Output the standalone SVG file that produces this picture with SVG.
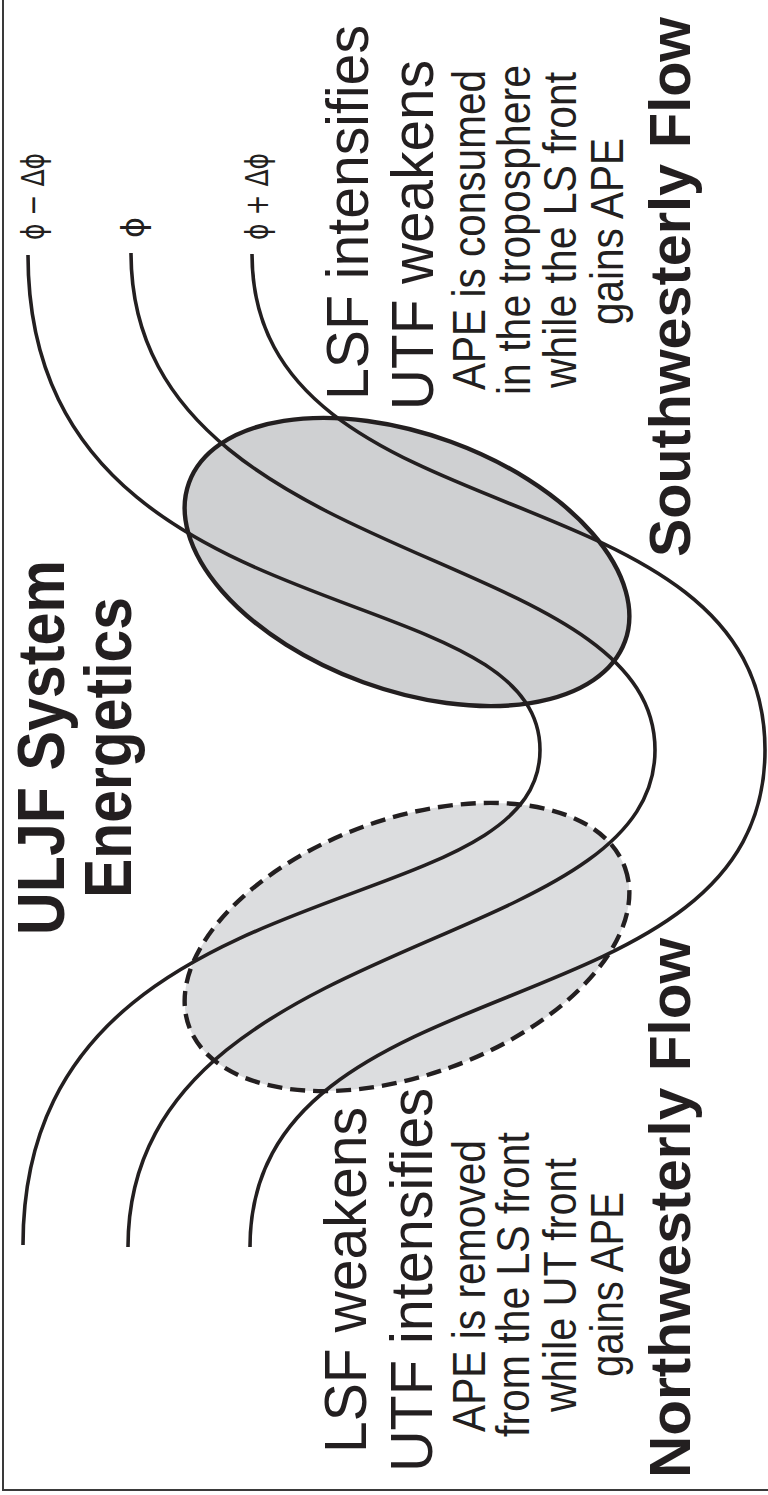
<svg xmlns="http://www.w3.org/2000/svg" width="768" height="1495" viewBox="0 0 768 1495">
  <style>
    .ink { fill: #231f20; }
    .big { font-family: "Liberation Sans", Arial, sans-serif; font-size: 60px; }
    .mid { font-family: "Liberation Sans", Arial, sans-serif; font-size: 46px; }
    .bold { font-family: "Liberation Sans", Arial, sans-serif; font-weight: bold; }
    .flow { font-size: 57px; }
    .lab { font-family: "DejaVu Sans", sans-serif; font-size: 32px; }
    .contour { fill: none; stroke: #231f20; stroke-width: 3.6; }
    .zone { stroke: #231f20; stroke-width: 4.4; }
  </style>

  <rect width="768" height="1495" fill="#ffffff"/>
  <!-- frame -->
  <path d="M3,0 V1490 H768" fill="none" stroke="#3a3a3a" stroke-width="2"/>

  <!-- shaded regions -->
  <g id="zone-southwesterly">
    <ellipse class="zone" cx="407" cy="562" rx="232" ry="128" transform="rotate(20 407 562)" fill="#cfd0d2"/>
  </g>
  <g id="zone-northwesterly">
    <ellipse class="zone" cx="407" cy="947" rx="232" ry="128" transform="rotate(-20 407 947)" fill="#dcdddf" stroke-dasharray="15 8"/>
  </g>

  <!-- geopotential height contours -->
  <g id="contours">
    <path class="contour" d="M28,255 C28,643 540,568 540,750 C540,932 23,857 23,1245"/>
    <path class="contour" d="M131,253 C131,571 655,542 655,750 C655,958 128,928 128,1247"/>
    <path class="contour" d="M252,254 C252,545 765,462 765,750 C765,1038 250,955 250,1247"/>
  </g>

  <!-- contour labels -->
  <g id="contour-labels" class="ink lab">
    <text transform="translate(44,240) rotate(-90)" textLength="87" lengthAdjust="spacingAndGlyphs">ϕ − Δϕ</text>
    <text transform="translate(144,238) rotate(-90)">ϕ</text>
    <text transform="translate(268,240) rotate(-90)" textLength="87" lengthAdjust="spacingAndGlyphs">ϕ + Δϕ</text>
  </g>

  <!-- title -->
  <g id="title" class="ink bold" font-size="66">
    <text transform="translate(64,935) rotate(-90)" textLength="375" lengthAdjust="spacingAndGlyphs">ULJF System</text>
    <text transform="translate(131,898) rotate(-90)" textLength="301" lengthAdjust="spacingAndGlyphs">Energetics</text>
  </g>

  <!-- southwesterly flow annotation -->
  <g id="note-southwesterly" class="ink">
    <text class="big" transform="translate(368,400) rotate(-90)" textLength="375" lengthAdjust="spacingAndGlyphs">LSF intensifies</text>
    <text class="big" transform="translate(433,410) rotate(-90)" textLength="350" lengthAdjust="spacingAndGlyphs">UTF weakens</text>
    <text class="mid" transform="translate(485,390) rotate(-90)" textLength="320" lengthAdjust="spacingAndGlyphs">APE is consumed</text>
    <text class="mid" transform="translate(530,395) rotate(-90)" textLength="330" lengthAdjust="spacingAndGlyphs">in the troposphere</text>
    <text class="mid" transform="translate(576,388) rotate(-90)" textLength="316" lengthAdjust="spacingAndGlyphs">while the LS front</text>
    <text class="mid" transform="translate(623,325) rotate(-90)" textLength="187" lengthAdjust="spacingAndGlyphs">gains APE</text>
    <text class="bold flow" transform="translate(690,557) rotate(-90)" textLength="540" lengthAdjust="spacingAndGlyphs">Southwesterly Flow</text>
  </g>

  <!-- northwesterly flow annotation -->
  <g id="note-northwesterly" class="ink">
    <text class="big" transform="translate(366,1453) rotate(-90)" textLength="346" lengthAdjust="spacingAndGlyphs">LSF weakens</text>
    <text class="big" transform="translate(432,1472) rotate(-90)" textLength="384" lengthAdjust="spacingAndGlyphs">UTF intensifies</text>
    <text class="mid" transform="translate(485,1432) rotate(-90)" textLength="292" lengthAdjust="spacingAndGlyphs">APE is removed</text>
    <text class="mid" transform="translate(529,1437) rotate(-90)" textLength="305" lengthAdjust="spacingAndGlyphs">from the LS front</text>
    <text class="mid" transform="translate(576,1412) rotate(-90)" textLength="254" lengthAdjust="spacingAndGlyphs">while UT front</text>
    <text class="mid" transform="translate(623,1377) rotate(-90)" textLength="185" lengthAdjust="spacingAndGlyphs">gains APE</text>
    <text class="bold flow" transform="translate(690,1478) rotate(-90)" textLength="540" lengthAdjust="spacingAndGlyphs">Northwesterly Flow</text>
  </g>
</svg>
